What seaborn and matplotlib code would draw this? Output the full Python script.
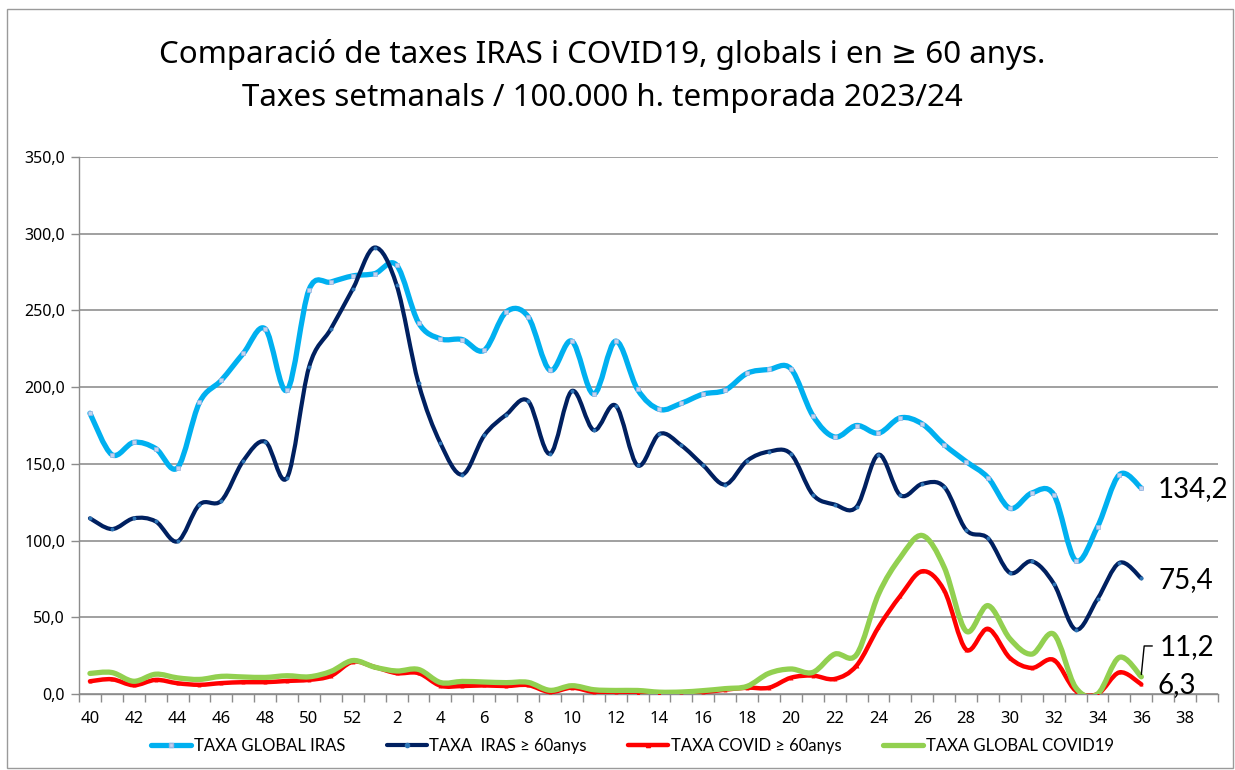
import numpy as np
import matplotlib
matplotlib.use("Agg")
import matplotlib.pyplot as plt
from matplotlib.path import Path
from matplotlib.patches import PathPatch, Rectangle
from matplotlib.lines import Line2D
import seaborn as sns

# setmanes de la temporada 2023/24 (40..52 i 1..36), eix fins a la 39
weeks = list(range(40, 53)) + list(range(1, 37))
axis_weeks = list(range(40, 53)) + list(range(1, 40))

iras_global = [183, 156, 164, 160, 147.5, 190, 204.5, 222, 238, 198, 263.5, 268.5, 272.5,
               274, 279.5, 242, 231.5, 231, 224, 249, 246, 211, 230, 195.5, 230, 198.5,
               185.5, 189.5, 195.5, 198, 209, 211.5, 212, 181.5, 167.5, 175, 170, 180, 176,
               162.5, 151.5, 141, 121, 131, 130, 87, 109, 143, 134.2]
iras_60 = [114.5, 107.5, 114.5, 112.5, 99.5, 123.5, 126, 152, 164.5, 141, 213, 238, 264,
           291, 266.5, 202.5, 163.5, 143, 168.5, 182, 191, 156.5, 197.5, 172, 188, 149,
           169.5, 162, 149, 136.5, 152, 158, 156.5, 130, 123.5, 122, 156, 129.5, 137,
           135, 107, 101.5, 79, 86.5, 72, 42, 62, 85.5, 75.4]
covid_60 = [8.3, 9.6, 5.7, 9.2, 7, 6, 7.1, 7.7, 7.7, 8.5, 9.2, 11.8, 21,
            17.6, 13.6, 13.6, 5.4, 5.2, 5.6, 5.2, 5.8, 1.3, 4.1, 1.3, 1.1, 0.9,
            0.9, 1.1, 1.3, 2.8, 4.1, 4.1, 10.6, 12, 9.8, 18.5, 43.5, 64, 80,
            67.5, 29, 42.5, 23.5, 17, 22.2, 2.2, 0, 14.1, 6.3]
covid_global = [13.4, 14, 8.3, 12.9, 10.5, 9.5, 11.5, 11.1, 10.8, 11.9, 11.2, 14.7, 21.8,
                17.5, 15, 16, 7.5, 8.2, 7.8, 7.4, 7.6, 2.4, 5.4, 2.8, 2.3, 2.3,
                1.2, 1.3, 2.2, 3.5, 5, 13.5, 16.3, 14.1, 26, 25.7, 65, 89, 103.3,
                82.6, 41, 57.6, 36, 26, 39, 4.3, 0, 23.9, 11.2]

labels = ["TAXA GLOBAL IRAS", "TAXA  IRAS \u2265 60anys", "TAXA COVID \u2265 60anys", "TAXA GLOBAL COVID19"]
colors = ["#00b0f0", "#002060", "#ff0000", "#92d050"]


def smooth_path(xs, ys):
    # corba de Bezier com la "línia suavitzada" d'Excel
    pts = np.column_stack([xs, ys]).astype(float)
    verts = [pts[0]]
    codes = [Path.MOVETO]
    n = len(pts)
    for i in range(n - 1):
        p0 = pts[i - 1] if i > 0 else pts[i]
        p1 = pts[i]
        p2 = pts[i + 1]
        p3 = pts[i + 2] if i + 2 < n else pts[i + 1]
        c1 = p1 + (p2 - p0) / 6.0
        c2 = p2 - (p3 - p1) / 6.0
        verts += [c1, c2, p2]
        codes += [Path.CURVE4] * 3
    return Path(verts, codes)


sns.set_theme(style="white")
plt.rcParams['font.family'] = ['Noto Sans', 'DejaVu Sans']
plt.rcParams['text.color'] = 'black'
plt.rcParams['xtick.color'] = 'black'
plt.rcParams['ytick.color'] = 'black'

fig = plt.figure(figsize=(12.35, 7.7), dpi=100)
ax = fig.add_axes([79 / 1235, 1 - 694 / 770, (1218 - 79) / 1235, (694 - 157) / 770])

x = np.arange(len(weeks))
series = [iras_global, iras_60, covid_60, covid_global]
widths = [3.8, 3.0, 3.2, 3.8]
for k, (vals, col, lw) in enumerate(zip(series, colors, widths)):
    ax.add_patch(PathPatch(smooth_path(x, vals), fill=False, edgecolor=col, lw=lw,
                           capstyle="round", joinstyle="round", zorder=3 + k))

sns.scatterplot(x=x, y=iras_global, marker="s", s=10, color="#c5d3ee", edgecolor="#9db3e0",
                linewidth=0.5, ax=ax, zorder=3.5)
sns.scatterplot(x=x, y=iras_60, marker="o", s=8, color="#2e75b6", linewidth=0, ax=ax, zorder=4.5)
sns.scatterplot(x=x, y=covid_60, marker="^", s=8, color="#ff0000", linewidth=0, ax=ax, zorder=5.5)

ax.set_xlim(-0.5, len(axis_weeks) - 0.5)
ax.set_ylim(0, 350)
ax.set_xticks(np.arange(0, len(axis_weeks), 2))
ax.set_xticklabels([str(w) for w in axis_weeks[::2]], fontsize=12)
ax.set_xticks(np.arange(-0.5, len(axis_weeks), 1), minor=True)
ax.tick_params(axis="x", which="major", length=0, pad=12)
ax.tick_params(axis="x", which="minor", length=6, width=1, color="#8c8c8c", direction="out", bottom=True)
ax.set_yticks(np.arange(0, 351, 50))
ax.set_yticklabels([f"{v:.1f}".replace(".", ",") for v in np.arange(0, 351, 50)], fontsize=11.5)
ax.tick_params(axis="y", length=6, width=1, color="#8c8c8c", direction="out", left=True, pad=4)
ax.grid(axis="y", color="#a0a0a0", lw=1.4)
ax.grid(axis="x", visible=False)
for side in ["top", "right"]:
    ax.spines[side].set_visible(False)
for side in ["left", "bottom"]:
    ax.spines[side].set_color("#8c8c8c")
    ax.spines[side].set_linewidth(1)
ax.set_axisbelow(True)

# etiquetes dels darrers valors
lab_font = dict(family=['Lato', 'DejaVu Sans'], fontsize=20, color="black")
ax.text(48.75, 133.5, "134,2", ha="left", va="center", **lab_font)
ax.text(48.8, 74.5, "75,4", ha="left", va="center", **lab_font)
ax.text(48.85, 30.5, "11,2", ha="left", va="center", **lab_font)
ax.text(48.75, 6.0, "6,3", ha="left", va="center", clip_on=False, **lab_font)
ax.plot([48.0, 48.13, 48.5], [covid_global[-1] + 1.5, 31.3, 31.3], color="black", lw=1,
        zorder=8, clip_on=False)

fig.text(0.488, 1 - 55 / 770, "Comparació de taxes IRAS i COVID19, globals i en \u2265 60 anys.",
         ha="center", va="center", fontsize=22.5)
fig.text(0.488, 1 - 98 / 770, "Taxes setmanals / 100.000 h. temporada 2023/24",
         ha="center", va="center", fontsize=22.5)

handles = [
    Line2D([], [], color=colors[0], lw=3.8, marker="s", ms=3, mfc="#c5d3ee", mec="#9db3e0"),
    Line2D([], [], color=colors[1], lw=3.0, marker="o", ms=3, mfc="#2e75b6", mec="#2e75b6"),
    Line2D([], [], color=colors[2], lw=3.2, marker="^", ms=3, mfc="#ff0000", mec="#ff0000"),
    Line2D([], [], color=colors[3], lw=3.8),
]
fig.legend(handles, labels, loc="center", bbox_to_anchor=(0.512, 1 - 746 / 770), ncol=4,
           frameon=False, prop=dict(family=['Lato', 'DejaVu Sans'], size=12),
           handlelength=2.4, handletextpad=0.15, columnspacing=2.5)

fig.patches.append(Rectangle((7 / 1235, 1 - 768 / 770), 1226 / 1235, 759 / 770,
                             transform=fig.transFigure, fill=False, edgecolor="#9a9a9a", lw=1))

fig.savefig("out.png", dpi=100)
